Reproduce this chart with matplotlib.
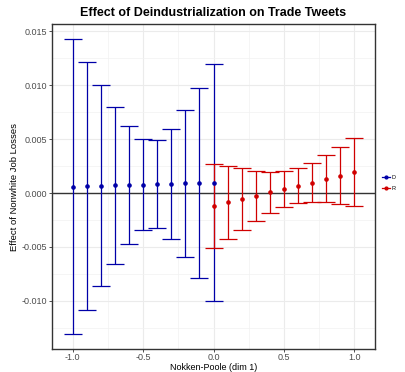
import numpy as np
import matplotlib.pyplot as plt
from matplotlib.lines import Line2D
from matplotlib.ticker import MultipleLocator

plt.rcParams['font.family'] = ['Liberation Sans', 'DejaVu Sans']

# Democrats (left half of the ideology scale)
d_x = [-1.0, -0.9, -0.8, -0.7, -0.6, -0.5, -0.4, -0.3, -0.2, -0.1, 0.0]
d_est = [0.00061, 0.00065, 0.00068, 0.00072, 0.00075, 0.00079, 0.00083, 0.00087, 0.00091, 0.00094, 0.00098]
d_hi = [0.01431, 0.01213, 0.01003, 0.00802, 0.00626, 0.00506, 0.00491, 0.00598, 0.00771, 0.00975, 0.01194]
d_lo = [-0.01309, -0.01083, -0.00865, -0.00657, -0.00476, -0.00346, -0.00328, -0.00426, -0.00593, -0.00787, -0.00997]

# Republicans (right half)
r_x = [0.0, 0.1, 0.2, 0.3, 0.4, 0.5, 0.6, 0.7, 0.8, 0.9, 1.0]
r_est = [-0.00120, -0.00087, -0.00056, -0.00025, 0.00006, 0.00037, 0.00068, 0.00098, 0.00132, 0.00163, 0.00194]
r_hi = [0.00274, 0.00250, 0.00228, 0.00209, 0.00200, 0.00204, 0.00231, 0.00283, 0.00352, 0.00431, 0.00515]
r_lo = [-0.00513, -0.00423, -0.00340, -0.00259, -0.00189, -0.00133, -0.00093, -0.00081, -0.00087, -0.00102, -0.00124]

blue = '#0000A8'
red = '#D00000'

fig = plt.figure(figsize=(4.06, 3.72), dpi=100)
ax = fig.add_axes([0.128, 0.0618, 0.796, 0.8737])

for xs, est, lo, hi, col in [(d_x, d_est, d_lo, d_hi, blue), (r_x, r_est, r_lo, r_hi, red)]:
    est = np.array(est)
    yerr = [est - np.array(lo), np.array(hi) - est]
    ax.errorbar(xs, est, yerr=yerr, fmt='o', color=col, ms=2.3, elinewidth=0.9,
                capsize=6.2, capthick=0.9, zorder=3)

ax.axhline(0, color='#333333', lw=1.0, zorder=2)

ax.set_xlim(-1.148, 1.148)
ax.set_ylim(-0.01446, 0.01568)
ax.xaxis.set_major_locator(MultipleLocator(0.5))
ax.xaxis.set_minor_locator(MultipleLocator(0.25))
ax.yaxis.set_major_locator(MultipleLocator(0.005))
ax.yaxis.set_minor_locator(MultipleLocator(0.0025))
ax.set_xticks([-1.0, -0.5, 0.0, 0.5, 1.0])
ax.set_xticklabels(['-1.0', '-0.5', '0.0', '0.5', '1.0'])
ax.set_yticks([-0.010, -0.005, 0.0, 0.005, 0.010, 0.015])
ax.set_yticklabels(['-0.010', '-0.005', '0.000', '0.005', '0.010', '0.015'])

ax.grid(which='major', color='#EBEBEB', lw=0.8, zorder=0)
ax.grid(which='minor', color='#F2F2F2', lw=0.5, zorder=0)
ax.set_axisbelow(True)
ax.tick_params(which='major', length=2.0, width=0.6, color='#333333',
               labelsize=6.5, labelcolor='#4D4D4D', pad=1.2)
ax.tick_params(which='minor', length=0)
for s in ax.spines.values():
    s.set_color('#333333')
    s.set_linewidth(1.0)

ax.set_xlabel('Nokken-Poole (dim 1)', fontsize=6.5, labelpad=0.5)
ax.set_ylabel('Effect of Nonwhite Job Losses', fontsize=6.8, labelpad=2)
ax.set_title('Effect of Deindustrialization on Trade Tweets', fontsize=9,
             fontweight='bold', pad=6)

handles = [Line2D([], [], color=blue, marker='o', ms=2.0, lw=0.9),
           Line2D([], [], color=red, marker='o', ms=2.0, lw=0.9)]
fig.legend(handles, ['D', 'R'], loc='center left', bbox_to_anchor=(0.935, 0.508),
           frameon=False, fontsize=4, handlelength=1.3, handletextpad=0.4,
           labelspacing=1.2, borderpad=0)

fig.savefig('out.png', dpi=100)
